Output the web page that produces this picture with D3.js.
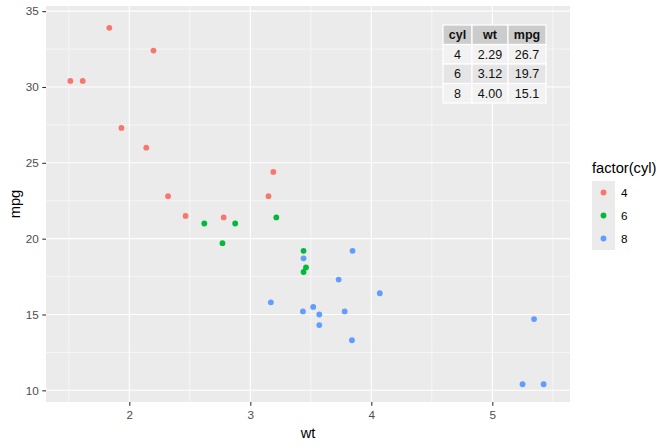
<!DOCTYPE html>
<html>
<head>
  <title>mtcars</title>
  <style type="text/css">
    body { margin: 0; background: #fff; }
    svg { font-family: "Liberation Sans", Arial, sans-serif; }
  </style>
</head>
<body>
  <script type="text/javascript" src="https://cdn.jsdelivr.net/npm/d3@7"></script>
  <script type="text/javascript">
    // mtcars values
    var wt  = [2.620, 2.875, 2.320, 3.215, 3.440, 3.460, 3.570, 3.190, 3.150, 3.440, 3.440,
               4.070, 3.730, 3.780, 5.250, 5.424, 5.345, 2.200, 1.615, 1.835, 2.465, 3.520,
               3.435, 3.840, 3.845, 1.935, 2.140, 1.513, 3.170, 2.770, 3.570, 2.780];
    var mpg = [21.0, 21.0, 22.8, 21.4, 18.7, 18.1, 14.3, 24.4, 22.8, 19.2, 17.8,
               16.4, 17.3, 15.2, 10.4, 10.4, 14.7, 32.4, 30.4, 33.9, 21.5, 15.5,
               15.2, 13.3, 19.2, 27.3, 26.0, 30.4, 15.8, 19.7, 15.0, 21.4];
    var cyl = [6, 6, 4, 6, 8, 6, 8, 4, 4, 6, 6,
               8, 8, 8, 8, 8, 8, 4, 4, 4, 4, 8,
               8, 8, 8, 4, 4, 4, 8, 6, 8, 4];

    var levels = ["4", "6", "8"];
    var xTicks = [2, 3, 4, 5];
    var yTicks = [10, 15, 20, 25, 30, 35];

    // summary table
    var tableHead = ["cyl", "wt", "mpg"];
    var tableCyl = ["4", "6", "8"];
    var tableWt  = ["2.29", "3.12", "4.00"];
    var tableMpg = ["26.7", "19.7", "15.1"];

    //Width and height
    var w = 672;
    var h = 447;
    var panel = { left: 46, right: 570, top: 6, bottom: 402 };

    var x = d3.scaleLinear().domain([1.3116, 5.642]).range([panel.left, panel.right]);
    var y = d3.scaleLinear().domain([9.23, 35.34]).range([panel.bottom, panel.top]);
    var color = d3.scaleOrdinal().domain(levels).range(["#F8766D", "#00BA38", "#619CFF"]);

    var svg = d3.select("body")
          .append("svg")
          .attr("width", w)
          .attr("height", h);

    // panel background
    svg.append("rect")
       .attr("x", panel.left).attr("y", panel.top)
       .attr("width", panel.right - panel.left)
       .attr("height", panel.bottom - panel.top)
       .attr("fill", "#EBEBEB");

    // minor grid
    var xMinor = d3.range(1.5, 5.6, 1);
    var yMinor = d3.range(12.5, 35, 5);
    svg.selectAll(".xminor").data(xMinor).enter().append("line")
       .attr("x1", d => x(d)).attr("x2", d => x(d))
       .attr("y1", panel.top).attr("y2", panel.bottom)
       .attr("stroke", "#fff").attr("stroke-width", 0.55);
    svg.selectAll(".yminor").data(yMinor).enter().append("line")
       .attr("y1", d => y(d)).attr("y2", d => y(d))
       .attr("x1", panel.left).attr("x2", panel.right)
       .attr("stroke", "#fff").attr("stroke-width", 0.55);

    // major grid
    svg.selectAll(".xmajor").data(xTicks).enter().append("line")
       .attr("x1", d => x(d)).attr("x2", d => x(d))
       .attr("y1", panel.top).attr("y2", panel.bottom)
       .attr("stroke", "#fff").attr("stroke-width", 1.1);
    svg.selectAll(".ymajor").data(yTicks).enter().append("line")
       .attr("y1", d => y(d)).attr("y2", d => y(d))
       .attr("x1", panel.left).attr("x2", panel.right)
       .attr("stroke", "#fff").attr("stroke-width", 1.1);

    // axes
    var xAxis = svg.append("g")
       .attr("transform", "translate(0," + panel.bottom + ")")
       .call(d3.axisBottom(x).tickValues(xTicks).tickSize(3.7).tickPadding(5.3).tickFormat(d3.format("d")));
    var yAxis = svg.append("g")
       .attr("transform", "translate(" + panel.left + ",0)")
       .call(d3.axisLeft(y).tickValues(yTicks).tickSize(3.7).tickPadding(3.5).tickFormat(d3.format("d")));
    [xAxis, yAxis].forEach(function(g) {
      g.select(".domain").remove();
      g.selectAll(".tick line").attr("stroke", "#333").attr("stroke-width", 1.1);
      g.selectAll(".tick text").attr("fill", "#4D4D4D")
       .style("font-size", "11.7px").style("font-family", "Liberation Sans, Arial, sans-serif");
    });

    // axis titles
    svg.append("text").attr("x", (panel.left + panel.right) / 2).attr("y", 438)
       .attr("text-anchor", "middle").style("font-size", "14.7px").text("wt");
    svg.append("text")
       .attr("transform", "translate(20," + ((panel.top + panel.bottom) / 2) + ") rotate(-90)")
       .attr("text-anchor", "middle").style("font-size", "14.7px").text("mpg");

    // points
    svg.selectAll(".pt").data(wt).enter().append("circle")
       .attr("cx", (d, i) => x(wt[i]))
       .attr("cy", (d, i) => y(mpg[i]))
       .attr("r", 2.9)
       .attr("fill", (d, i) => color(String(cyl[i])));

    // table annotation
    var colW = [29, 36, 38];
    var rowH = 19.5;
    var tx = 443, ty = 25;
    var rows = [tableHead].concat(tableCyl.map((c, i) => [c, tableWt[i], tableMpg[i]]));
    var fills = ["#CCCCCC", "#F2F2F2", "#E5E5E5", "#F2F2F2"];
    var colX = [tx, tx + colW[0], tx + colW[0] + colW[1]];
    var tg = svg.append("g");
    rows.forEach(function(r, ri) {
      r.forEach(function(v, ci) {
        tg.append("rect")
          .attr("x", colX[ci]).attr("y", ty + ri * rowH)
          .attr("width", colW[ci]).attr("height", rowH)
          .attr("fill", fills[ri]).attr("stroke", "#fff").attr("stroke-width", 1.2);
        tg.append("text")
          .attr("x", colX[ci] + colW[ci] / 2).attr("y", ty + ri * rowH + rowH / 2 + 4.3)
          .attr("text-anchor", "middle")
          .style("font-size", "12.5px")
          .style("font-weight", ri === 0 ? "bold" : "normal")
          .attr("fill", "#111")
          .text(v);
      });
    });

    // legend
    var lg = svg.append("g");
    lg.append("text").attr("x", 592).attr("y", 173).style("font-size", "14.7px").text("factor(cyl)");
    lg.selectAll(".key").data(levels).enter().append("rect")
      .attr("x", 592).attr("y", (d, i) => 181 + i * 23)
      .attr("width", 23).attr("height", 23).attr("fill", "#EBEBEB");
    lg.selectAll(".kdot").data(levels).enter().append("circle")
      .attr("cx", 603.5).attr("cy", (d, i) => 192.5 + i * 23)
      .attr("r", 2.9).attr("fill", d => color(d));
    lg.selectAll(".klab").data(levels).enter().append("text")
      .attr("x", 621).attr("y", (d, i) => 196.7 + i * 23)
      .style("font-size", "11.7px").text(d => d);
  </script>
</body>
</html>
